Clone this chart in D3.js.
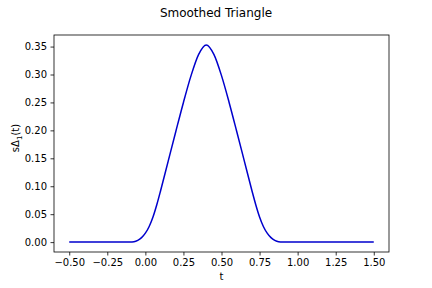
<!DOCTYPE html>
<html>
<head>
<meta charset="utf-8">
<script src="https://cdn.jsdelivr.net/npm/d3@7"></script>
<style>
  body { margin: 0; background: #fff; }
  svg { display: block; font-family: "DejaVu Sans", sans-serif; }
</style>
</head>
<body>
<svg class="svg"></svg>
<script>
// values
const tValues = [-0.5, -0.4, -0.3, -0.2, -0.15, -0.1, -0.075, -0.05, -0.025, 0.0, 0.025, 0.05, 0.075, 0.1, 0.15,
  0.2, 0.25, 0.3, 0.35, 0.4, 0.45, 0.5, 0.55, 0.6, 0.65, 0.7, 0.725, 0.75, 0.775, 0.8, 0.825, 0.85, 0.875,
  0.9, 0.95, 1.0, 1.1, 1.2, 1.3, 1.4, 1.5];
const sValues = [0, 0, 0, 0, 0, 0.000, 0.0005, 0.003, 0.008, 0.016, 0.028, 0.045, 0.067, 0.092, 0.145,
  0.198, 0.250, 0.298, 0.336, 0.353, 0.336, 0.298, 0.250, 0.198, 0.145, 0.092, 0.067, 0.045, 0.028, 0.016,
  0.008, 0.003, 0.0005, 0.000, 0, 0, 0, 0, 0, 0, 0];
const xTicks = [-0.5, -0.25, 0, 0.25, 0.5, 0.75, 1.0, 1.25, 1.5];
const yTicks = [0, 0.05, 0.1, 0.15, 0.2, 0.25, 0.3, 0.35];

const W = 432, H = 288;
const plot = { left: 54, right: 389, top: 35, bottom: 252 };

const svg = d3.select(".svg").attr("width", W).attr("height", H);

const x = d3.scaleLinear().domain([-0.6, 1.6]).range([plot.left, plot.right]);
const y = d3.scaleLinear().domain([-0.0177, 0.3707]).range([plot.bottom, plot.top]);

const data = tValues.map((t, i) => ({ t: t, s: sValues[i] }));

// title
svg.append("text")
  .attr("x", W / 2).attr("y", 17)
  .attr("text-anchor", "middle")
  .style("font-size", "12px")
  .text("Smoothed Triangle");

// curve
const line = d3.line()
  .x(d => x(d.t))
  .y(d => y(d.s))
  .curve(d3.curveMonotoneX);

svg.append("path")
  .datum(data)
  .attr("d", line)
  .attr("fill", "none")
  .attr("stroke", "#0000cd")
  .attr("stroke-width", 1.5);

// axes
const xAxis = svg.append("g")
  .attr("transform", `translate(0,${plot.bottom})`)
  .call(d3.axisBottom(x).tickValues(xTicks).tickSize(3.5).tickPadding(3.5)
    .tickFormat(d3.format(".2f")));

const yAxis = svg.append("g")
  .attr("transform", `translate(${plot.left},0)`)
  .call(d3.axisLeft(y).tickValues(yTicks).tickSize(3.5).tickPadding(3.5)
    .tickFormat(d3.format(".2f")));

[xAxis, yAxis].forEach(a => {
  a.select(".domain").remove();
  a.selectAll("text")
    .attr("fill", "#000")
    .style("font-family", "DejaVu Sans, sans-serif")
    .style("font-size", "10px");
  a.selectAll("line").attr("stroke", "#000").attr("stroke-width", 0.8);
});
xAxis.selectAll("text").text(d => d3.format(".2f")(d).replace("-", "\u2212"));

// frame
svg.append("rect")
  .attr("x", plot.left).attr("y", plot.top)
  .attr("width", plot.right - plot.left)
  .attr("height", plot.bottom - plot.top)
  .attr("fill", "none")
  .attr("stroke", "#000")
  .attr("stroke-width", 0.8);

// axis labels
svg.append("text")
  .attr("x", (plot.left + plot.right) / 2).attr("y", 280)
  .attr("text-anchor", "middle")
  .style("font-size", "10px")
  .text("t");

const ylab = svg.append("text")
  .attr("transform", `translate(19,138) rotate(-90)`)
  .attr("text-anchor", "middle")
  .style("font-size", "10px");
ylab.append("tspan").text("sΔ");
ylab.append("tspan").attr("dy", 2.5).style("font-size", "7px").text("1");
ylab.append("tspan").attr("dy", -2.5).text("(t)");
</script>
</body>
</html>
